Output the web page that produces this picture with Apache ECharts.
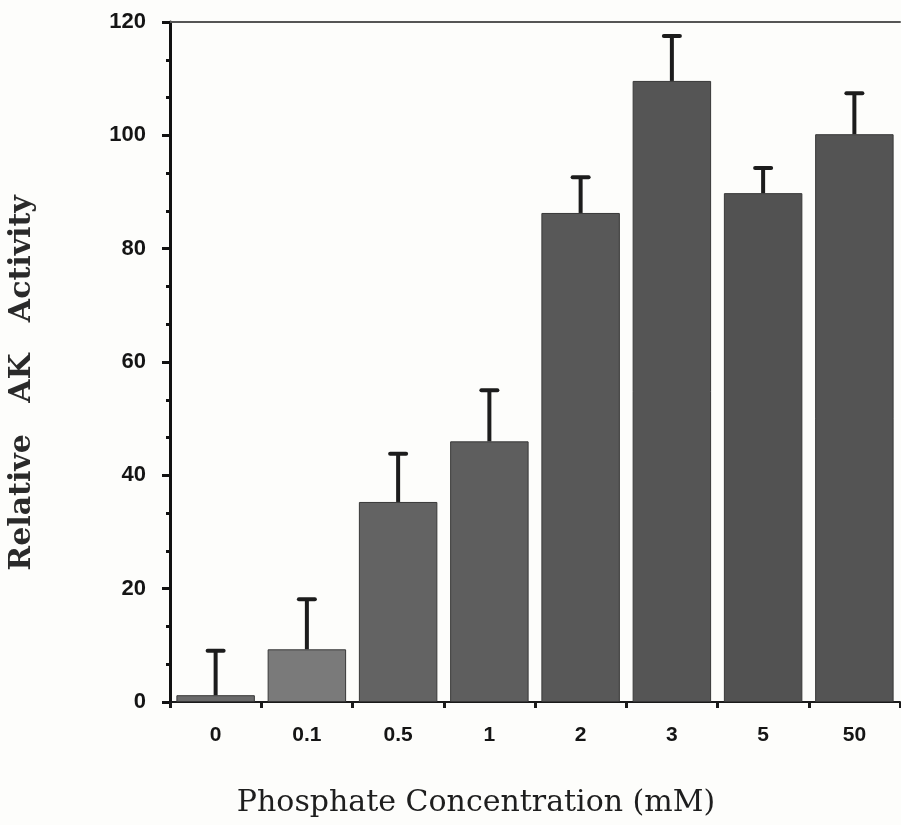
<!DOCTYPE html>
<html>
<head>
<meta charset="utf-8">
<script src="https://cdn.jsdelivr.net/npm/echarts@6/dist/echarts.min.js"></script>
<style>
html,body{margin:0;padding:0;background:#fdfdfb;}
#chart{width:901px;height:825px;}
</style>
</head>
<body>
<div id="chart"></div>
<script>
// Data
var categories = ['0', '0.1', '0.5', '1', '2', '3', '5', '50'];
var activity = [1.2, 9.3, 35.3, 46.0, 86.3, 109.6, 89.8, 100.2];
var errorTop = [9.2, 18.3, 44.0, 55.2, 92.8, 117.7, 94.4, 107.6];
var barColors = ['#6a6a6a', '#7a7a7a', '#636363', '#5e5e5e', '#585858', '#555555', '#525252', '#545454'];
var yTicks = [0, 20, 40, 60, 80, 100, 120];

var chart = echarts.init(document.getElementById('chart'));

var barData = activity.map(function (v, i) {
  return { value: v, itemStyle: { color: barColors[i] } };
});
var errData = activity.map(function (v, i) { return [i, v, errorTop[i]]; });

var option = {
  backgroundColor: '#fdfdfb',
  animation: false,
  grid: { left: 170, right: 1, top: 22, bottom: 123, containLabel: false },
  xAxis: [{
    type: 'category',
    data: categories,
    axisLine: { show: true, lineStyle: { color: '#1a1a1a', width: 2 } },
    axisTick: { show: true, alignWithLabel: false, length: 6, lineStyle: { color: '#1a1a1a', width: 3 } },
    axisLabel: { margin: 23, fontFamily: 'Liberation Sans', fontWeight: 'bold', fontSize: 21, color: '#151515' },
    splitLine: { show: false }
  }, {
    type: 'category',
    position: 'top',
    data: categories,
    axisLine: { show: true, lineStyle: { color: '#555555', width: 2 } },
    axisTick: { show: false },
    axisLabel: { show: false },
    splitLine: { show: false }
  }],
  yAxis: {
    type: 'value',
    min: yTicks[0],
    max: yTicks[yTicks.length - 1],
    interval: 20,
    axisLine: { show: true, lineStyle: { color: '#111111', width: 3 } },
    axisTick: { show: true, length: 8, lineStyle: { color: '#111111', width: 3 } },
    minorTick: { show: true, splitNumber: 3, length: 4, lineStyle: { color: '#111111', width: 3 } },
    axisLabel: { margin: 24, fontFamily: 'Liberation Sans', fontWeight: 'bold', fontSize: 22, color: '#151515' },
    splitLine: { show: false }
  },
  graphic: [{
    type: 'text',
    x: 22, y: 383,
    rotation: Math.PI / 2,
    style: {
      text: 'Relative   AK   Activity',
      font: 'bold 30px "DejaVu Serif", serif',
      fill: '#2a2a2a',
      align: 'center',
      verticalAlign: 'middle'
    }
  }, {
    type: 'text',
    x: 476, y: 803,
    style: {
      text: 'Phosphate Concentration (mM)',
      font: '30px "DejaVu Serif", serif',
      fill: '#1e1e1e',
      align: 'center',
      verticalAlign: 'middle'
    }
  }],
  series: [{
    type: 'bar',
    data: barData,
    barCategoryGap: '14%',
    itemStyle: { borderColor: '#383838', borderWidth: 1 },
    z: 2
  }, {
    type: 'custom',
    data: errData,
    z: 3,
    renderItem: function (params, api) {
      var i = api.value(0);
      var base = api.coord([i, api.value(1)]);
      var top = api.coord([i, api.value(2)]);
      var capHalf = 8;
      return {
        type: 'group',
        children: [{
          type: 'line',
          shape: { x1: base[0], y1: base[1], x2: top[0], y2: top[1] },
          style: { stroke: '#1c1c1c', lineWidth: 4 }
        }, {
          type: 'line',
          shape: { x1: top[0] - capHalf, y1: top[1] + 1, x2: top[0] + capHalf, y2: top[1] + 1 },
          style: { stroke: '#1c1c1c', lineWidth: 4, lineCap: 'round' }
        }]
      };
    }
  }]
};
chart.setOption(option);
</script>
</body>
</html>
